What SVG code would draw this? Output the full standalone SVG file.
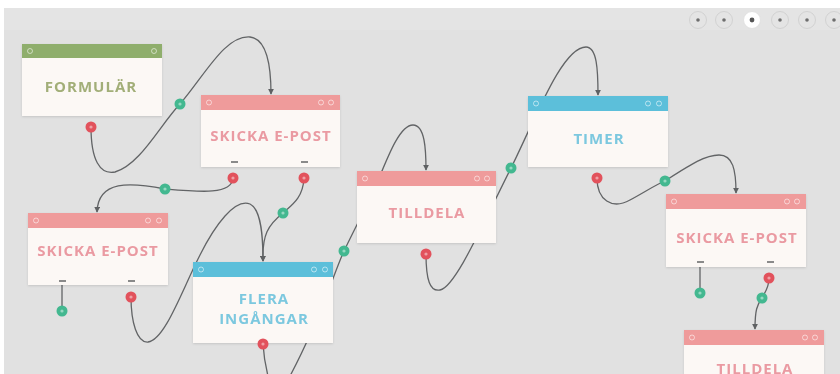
<svg xmlns="http://www.w3.org/2000/svg" width="840" height="374" viewBox="0 0 840 374">
  <defs>
    <marker id="arrow" viewBox="0 0 8 8" refX="7" refY="4" markerWidth="6" markerHeight="6" orient="auto" markerUnits="userSpaceOnUse">
      <path d="M0,0 L8,4 L0,8 z" fill="#5f6163"/>
    </marker>
    <filter id="shadow" x="-10%" y="-10%" width="120%" height="130%">
      <feDropShadow dx="0" dy="1" stdDeviation="1.2" flood-color="#000" flood-opacity="0.12"/>
    </filter>
  </defs>
  <style>
    .body { fill: #fcf8f5; }
    .hd-green { fill: #8fae6c; }
    .hd-pink { fill: #ef9b9b; }
    .hd-blue { fill: #5cbfda; }
    .ico { fill: none; stroke: #ffffff; stroke-opacity: 0.55; stroke-width: 1; }
    .title { font-family: "Open Sans", "Liberation Sans", sans-serif; font-weight: 700; font-size: 15px; letter-spacing: 1px; text-anchor: middle; }
    .t-green { fill: #a2ae78; }
    .t-pink { fill: #ea9aa2; }
    .t-blue { fill: #7cc8df; }
    .lab { fill: #8a8a8a; }
    .link { fill: none; stroke: #626466; stroke-width: 1.3; }
    .dot-g { fill: #43b890; }
    .dot-r { fill: #e2525c; }
    .dot-c { fill: #ffffff; fill-opacity: 0.45; }
    .tb { fill: #e4e4e4; stroke: #d2d2d2; stroke-width: 1; }
    .tb-on { fill: #ffffff; stroke: #e2e2e2; stroke-width: 1; }
    .tb-c { fill: #6e6e6e; }
  </style>

  <!-- canvas -->
  <rect x="0" y="0" width="840" height="374" fill="#ffffff"/>
  <rect x="4" y="8" width="836" height="366" fill="#e1e1e1"/>
  <rect x="4" y="8" width="836" height="22" fill="#e4e4e4"/>

  <!-- toolbar -->
  <g id="toolbar">
    <circle class="tb" cx="698" cy="20" r="8.5"/><circle class="tb-c" cx="698" cy="20" r="1.8"/>
    <circle class="tb" cx="724" cy="20" r="8.5"/><circle class="tb-c" cx="724" cy="20" r="1.8"/>
    <circle class="tb-on" cx="752" cy="20" r="8.5"/><circle fill="#555" cx="752" cy="20" r="2.4"/>
    <circle class="tb" cx="780" cy="20" r="8.5"/><circle class="tb-c" cx="780" cy="20" r="1.8"/>
    <circle class="tb" cx="807" cy="20" r="8.5"/><circle class="tb-c" cx="807" cy="20" r="1.8"/>
    <circle class="tb" cx="834" cy="20" r="8.5"/><circle class="tb-c" cx="834" cy="20" r="1.8"/>
  </g>

  <!-- connectors -->
  <g id="connectors">
    <path class="link" d="M91,127 C91,160 100,175 115,172 C140,165 160,125 180,104 C205,75 225,35 250,37 C268,39 271,70 271,94" marker-end="url(#arrow)"/>
    <path class="link" d="M233,178 C232,195 200,192 165,189 C130,182 98,180 97,212" marker-end="url(#arrow)"/>
    <path class="link" d="M304,178 C303,198 292,205 283,213 C268,225 262,235 263,261" marker-end="url(#arrow)"/>
    <path class="link" d="M131,297 C131,322 137,343 148,342 C165,340 182,290 200,255 C215,225 235,198 250,204 C262,210 263,240 263,261" marker-end="url(#arrow)"/>
    <path class="link" d="M263,344 C264,360 266,368 268,376"/>
    <path class="link" d="M290,376 C320,320 335,270 344,251 C355,228 362,215 372,195 C385,165 398,125 413,125 C425,125 426,150 426,170" marker-end="url(#arrow)"/>
    <path class="link" d="M426,254 C426,280 430,292 440,290 C455,287 480,230 511,168 C535,120 562,47 586,47 C597,47 598,70 598,95" marker-end="url(#arrow)"/>
    <path class="link" d="M597,178 C597,200 612,210 630,200 C645,192 655,185 665,181 C690,165 705,155 719,155 C733,155 736,170 736,193" marker-end="url(#arrow)"/>
    <path class="link" d="M62,284 L62,311"/>
    <path class="link" d="M700,266 L700,293"/>
    <path class="link" d="M769,278 C769,288 765,292 762,298 C757,305 755,310 755,329" marker-end="url(#arrow)"/>
  </g>

  <!-- nodes -->
  <g id="formular" filter="url(#shadow)">
    <rect class="body" x="22" y="44" width="140" height="72"/>
    <rect class="hd-green" x="22" y="44" width="140" height="14"/>
    <circle class="ico" cx="30" cy="51" r="2.5"/>
    <circle class="ico" cx="154" cy="51" r="2.5"/>
    <text class="title t-green" x="91" y="92">FORMULÄR</text>
  </g>

  <g id="skicka-epost-1" filter="url(#shadow)">
    <rect class="body" x="201" y="95" width="139" height="72"/>
    <rect class="hd-pink" x="201" y="95" width="139" height="15"/>
    <circle class="ico" cx="209" cy="102.5" r="2.5"/>
    <circle class="ico" cx="321" cy="102.5" r="2.5"/>
    <circle class="ico" cx="331" cy="102.5" r="2.5"/>
    <text class="title t-pink" x="271" y="141">SKICKA E-POST</text>
    <rect class="lab" x="231" y="161" width="7" height="2"/>
    <rect class="lab" x="301" y="161" width="7" height="2"/>
  </g>

  <g id="skicka-epost-2" filter="url(#shadow)">
    <rect class="body" x="28" y="213" width="140" height="72"/>
    <rect class="hd-pink" x="28" y="213" width="140" height="15"/>
    <circle class="ico" cx="36" cy="220.5" r="2.5"/>
    <circle class="ico" cx="148" cy="220.5" r="2.5"/>
    <circle class="ico" cx="159" cy="220.5" r="2.5"/>
    <text class="title t-pink" x="98" y="256">SKICKA E-POST</text>
    <rect class="lab" x="59" y="280" width="7" height="2"/>
    <rect class="lab" x="128" y="280" width="7" height="2"/>
  </g>

  <g id="flera-ingangar" filter="url(#shadow)">
    <rect class="body" x="193" y="262" width="140" height="81"/>
    <rect class="hd-blue" x="193" y="262" width="140" height="15"/>
    <circle class="ico" cx="201" cy="269.5" r="2.5"/>
    <circle class="ico" cx="314" cy="269.5" r="2.5"/>
    <circle class="ico" cx="325" cy="269.5" r="2.5"/>
    <text class="title t-blue" x="264" y="304">FLERA</text>
    <text class="title t-blue" x="264" y="324">INGÅNGAR</text>
  </g>

  <g id="tilldela-1" filter="url(#shadow)">
    <rect class="body" x="357" y="171" width="139" height="72"/>
    <rect class="hd-pink" x="357" y="171" width="139" height="15"/>
    <circle class="ico" cx="365" cy="178.5" r="2.5"/>
    <circle class="ico" cx="477" cy="178.5" r="2.5"/>
    <circle class="ico" cx="487" cy="178.5" r="2.5"/>
    <text class="title t-pink" x="427" y="218">TILLDELA</text>
  </g>

  <g id="timer" filter="url(#shadow)">
    <rect class="body" x="528" y="96" width="140" height="71"/>
    <rect class="hd-blue" x="528" y="96" width="140" height="15"/>
    <circle class="ico" cx="536" cy="103.5" r="2.5"/>
    <circle class="ico" cx="648" cy="103.5" r="2.5"/>
    <circle class="ico" cx="659" cy="103.5" r="2.5"/>
    <text class="title t-blue" x="599" y="144">TIMER</text>
  </g>

  <g id="skicka-epost-3" filter="url(#shadow)">
    <rect class="body" x="666" y="194" width="140" height="73"/>
    <rect class="hd-pink" x="666" y="194" width="140" height="15"/>
    <circle class="ico" cx="674" cy="201.5" r="2.5"/>
    <circle class="ico" cx="787" cy="201.5" r="2.5"/>
    <circle class="ico" cx="797" cy="201.5" r="2.5"/>
    <text class="title t-pink" x="737" y="243">SKICKA E-POST</text>
    <rect class="lab" x="697" y="261" width="7" height="2"/>
    <rect class="lab" x="767" y="261" width="7" height="2"/>
  </g>

  <g id="tilldela-2" filter="url(#shadow)">
    <rect class="body" x="684" y="330" width="140" height="50"/>
    <rect class="hd-pink" x="684" y="330" width="140" height="15"/>
    <circle class="ico" cx="692" cy="337.5" r="2.5"/>
    <circle class="ico" cx="805" cy="337.5" r="2.5"/>
    <circle class="ico" cx="815" cy="337.5" r="2.5"/>
    <text class="title t-pink" x="755" y="374">TILLDELA</text>
  </g>

  <!-- ports -->
  <g id="ports">
    <circle class="dot-r" cx="91" cy="127" r="5.5"/><circle class="dot-c" cx="91" cy="127" r="1.6"/>
    <circle class="dot-g" cx="180" cy="104" r="5.5"/><circle class="dot-c" cx="180" cy="104" r="1.6"/>
    <circle class="dot-r" cx="233" cy="178" r="5.5"/><circle class="dot-c" cx="233" cy="178" r="1.6"/>
    <circle class="dot-r" cx="304" cy="178" r="5.5"/><circle class="dot-c" cx="304" cy="178" r="1.6"/>
    <circle class="dot-g" cx="165" cy="189" r="5.5"/><circle class="dot-c" cx="165" cy="189" r="1.6"/>
    <circle class="dot-g" cx="283" cy="213" r="5.5"/><circle class="dot-c" cx="283" cy="213" r="1.6"/>
    <circle class="dot-g" cx="62" cy="311" r="5.5"/><circle class="dot-c" cx="62" cy="311" r="1.6"/>
    <circle class="dot-r" cx="131" cy="297" r="5.5"/><circle class="dot-c" cx="131" cy="297" r="1.6"/>
    <circle class="dot-r" cx="263" cy="344" r="5.5"/><circle class="dot-c" cx="263" cy="344" r="1.6"/>
    <circle class="dot-g" cx="344" cy="251" r="5.5"/><circle class="dot-c" cx="344" cy="251" r="1.6"/>
    <circle class="dot-r" cx="426" cy="254" r="5.5"/><circle class="dot-c" cx="426" cy="254" r="1.6"/>
    <circle class="dot-g" cx="511" cy="168" r="5.5"/><circle class="dot-c" cx="511" cy="168" r="1.6"/>
    <circle class="dot-r" cx="597" cy="178" r="5.5"/><circle class="dot-c" cx="597" cy="178" r="1.6"/>
    <circle class="dot-g" cx="665" cy="181" r="5.5"/><circle class="dot-c" cx="665" cy="181" r="1.6"/>
    <circle class="dot-g" cx="700" cy="293" r="5.5"/><circle class="dot-c" cx="700" cy="293" r="1.6"/>
    <circle class="dot-r" cx="769" cy="278" r="5.5"/><circle class="dot-c" cx="769" cy="278" r="1.6"/>
    <circle class="dot-g" cx="762" cy="298" r="5.5"/><circle class="dot-c" cx="762" cy="298" r="1.6"/>
  </g>
</svg>
